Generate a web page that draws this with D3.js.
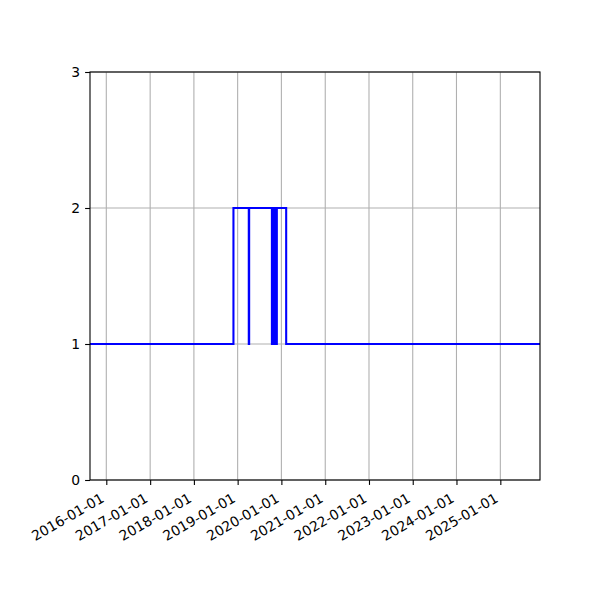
<!DOCTYPE html>
<html>
<head>
<meta charset="utf-8">
<script src="https://cdn.jsdelivr.net/npm/d3@7"></script>
<style>
  html, body { margin: 0; padding: 0; background: #fff; }
  svg text { font-family: "DejaVu Sans", sans-serif; font-size: 13.9px; fill: #000; }
</style>
</head>
<body>
<svg id="chart" width="600" height="600"></svg>
<script>
// ---- data ----
const xDomain = ["2015-08-18", "2025-11-28"];
const yDomain = [0, 3];
const yTicks = [0, 1, 2, 3];
const xTickLabels = ["2016-01-01", "2017-01-01", "2018-01-01", "2019-01-01", "2020-01-01",
                     "2021-01-01", "2022-01-01", "2023-01-01", "2024-01-01", "2025-01-01"];
// step series: value holds from each date until the next one
const stepDates = ["2015-08-18", "2018-11-27", "2019-04-04", "2019-04-07",
                   "2019-10-14", "2019-10-18", "2019-10-24", "2019-10-28", "2019-11-02",
                   "2019-11-06", "2019-11-11", "2019-11-15", "2019-11-21",
                   "2019-11-24", "2020-02-10", "2025-11-28"];
const stepValues = [1, 2, 1, 2,
                    1, 2, 1, 2, 1,
                    2, 1, 2, 1,
                    2, 1, 1];

// ---- layout ----
const parse = d3.utcParse("%Y-%m-%d");
const L = 90, R = 540, T = 72, B = 480;
const svg = d3.select("#chart");

const x = d3.scaleUtc().domain(xDomain.map(parse)).range([L, R]);
const y = d3.scaleLinear().domain(yDomain).range([B, T]);

const xTickDates = xTickLabels.map(parse);

// grid
const grid = svg.append("g");
grid.selectAll(".gx").data(xTickDates).enter().append("line")
  .attr("x1", d => x(d)).attr("x2", d => x(d))
  .attr("y1", T).attr("y2", B)
  .attr("stroke", "#b0b0b0").attr("stroke-width", 1.1);
grid.selectAll(".gy").data(yTicks).enter().append("line")
  .attr("x1", L).attr("x2", R)
  .attr("y1", d => y(d)).attr("y2", d => y(d))
  .attr("stroke", "#b0b0b0").attr("stroke-width", 1.1);

// line
const series = stepDates.map((d, i) => ({ date: parse(d), value: stepValues[i] }));
const line = d3.line().x(d => x(d.date)).y(d => y(d.value)).curve(d3.curveStepAfter);
svg.append("path").datum(series)
  .attr("d", line)
  .attr("fill", "none")
  .attr("stroke", "#0000ff")
  .attr("stroke-width", 2.08);

// x axis
const xAxis = d3.axisBottom(x).tickValues(xTickDates).tickSize(4.9).tickPadding(4.9)
  .tickFormat(d3.utcFormat("%Y-%m-%d"));
const gx = svg.append("g").attr("transform", `translate(0,${B})`).call(xAxis);
gx.select(".domain").remove();
gx.selectAll(".tick line").attr("stroke", "#000").attr("stroke-width", 1.1);
gx.selectAll(".tick text")
  .attr("text-anchor", "end")
  .attr("y", 0).attr("dy", null)
  .attr("transform", "translate(-1.7,21) rotate(-30)")
  .style("font-family", "DejaVu Sans").style("font-size", "13.9px");

// y axis
const yAxis = d3.axisLeft(y).tickValues(yTicks).tickSize(4.9).tickPadding(4.9)
  .tickFormat(d3.format("d"));
const gy = svg.append("g").attr("transform", `translate(${L},0)`).call(yAxis);
gy.select(".domain").remove();
gy.selectAll(".tick line").attr("stroke", "#000").attr("stroke-width", 1.1);
gy.selectAll(".tick text").style("font-family", "DejaVu Sans").style("font-size", "13.9px");

// frame
svg.append("rect").attr("x", L).attr("y", T).attr("width", R - L).attr("height", B - T)
  .attr("fill", "none").attr("stroke", "#000").attr("stroke-width", 1.1);
</script>
</body>
</html>
